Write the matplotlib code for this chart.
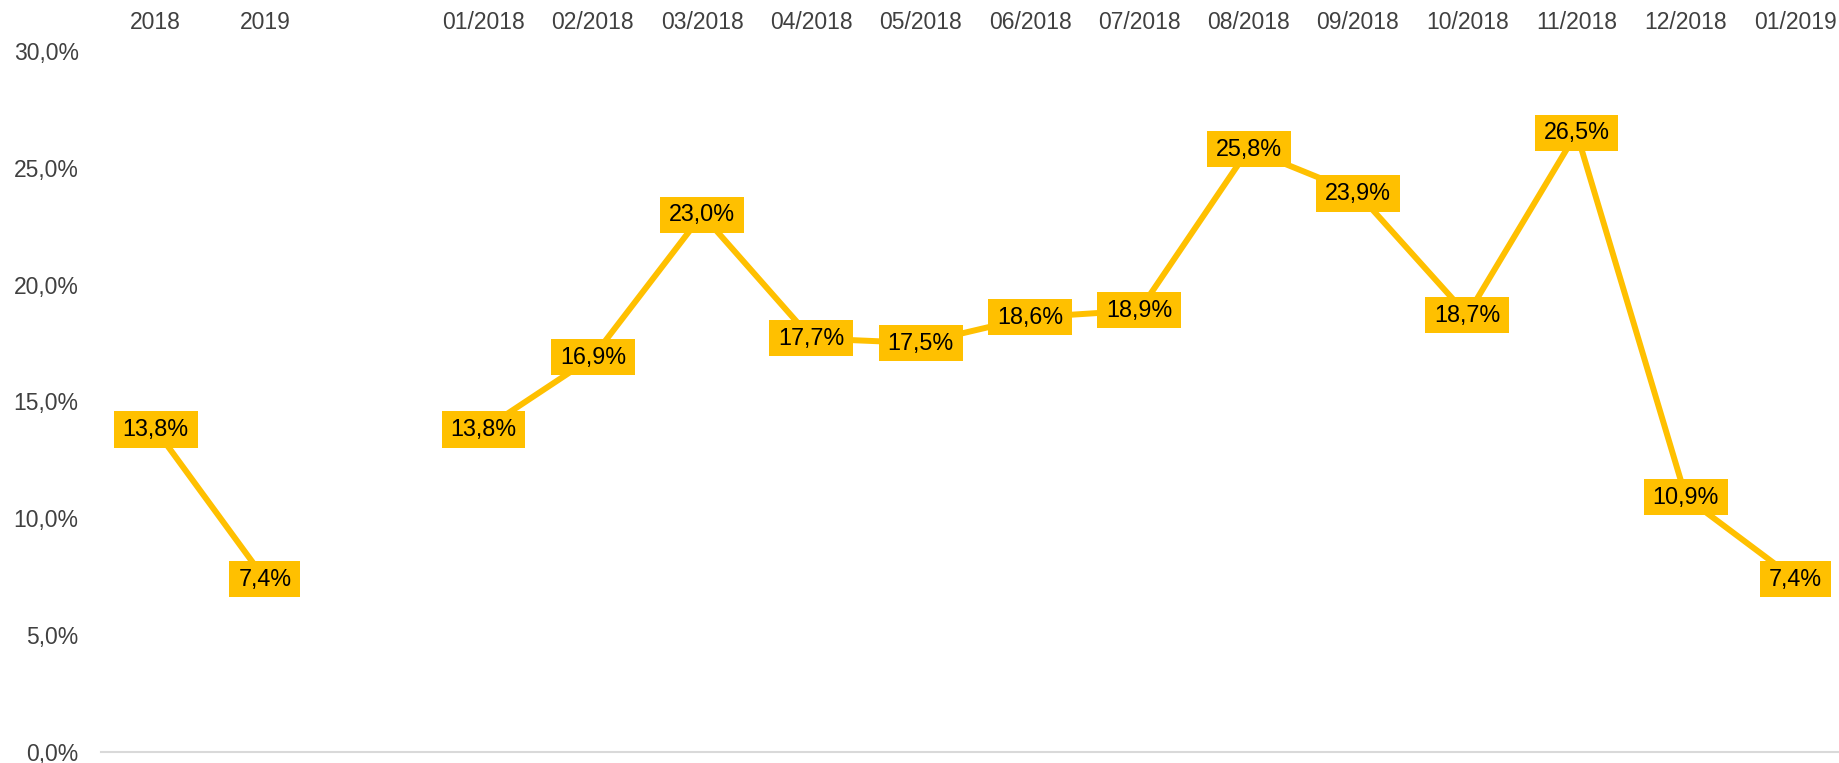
import numpy as np
import matplotlib.pyplot as plt
from matplotlib.path import Path
from matplotlib.ticker import FuncFormatter

# dados do gráfico
categorias = ['2018', '2019', '',
              '01/2018', '02/2018', '03/2018', '04/2018', '05/2018', '06/2018', '07/2018',
              '08/2018', '09/2018', '10/2018', '11/2018', '12/2018', '01/2019']
valores = [13.8, 7.4, np.nan,
           13.8, 16.9, 23.0, 17.7, 17.5, 18.6, 18.9, 25.8, 23.9, 18.7, 26.5, 10.9, 7.4]

amarelo = '#FFC000'
plt.rcParams['font.family'] = ['Liberation Sans', 'DejaVu Sans']


# caixa retangular com folga horizontal maior que a vertical
def caixa(x0, y0, width, height, mutation_size):
    px = 0.38 * mutation_size
    py = 0.28 * mutation_size
    x0, y0 = x0 - px, y0 - py
    x1, y1 = x0 + width + 2 * px, y0 + height + 2 * py
    return Path([(x0, y0), (x1, y0), (x1, y1), (x0, y1), (x0, y0)], closed=True)


fig = plt.figure(figsize=(18.39, 7.63), dpi=100)
ax = fig.add_axes([0.0549, 0.0144, 0.951, 0.9188])

x = np.arange(len(categorias))
y = np.array(valores)
ax.plot(x, y, color=amarelo, linewidth=4.3, solid_joinstyle='miter', zorder=2)

# rótulos de dados
for xi, v in zip(x, y):
    if np.isnan(v):
        continue
    ax.text(xi, v, f'{v:.1f}%'.replace('.', ','), ha='center', va='center',
            fontsize=16.8, color='black', zorder=3,
            bbox=dict(boxstyle=caixa, facecolor=amarelo, edgecolor='none'))

ax.set_xlim(-0.5, len(categorias) - 0.5)
ax.set_ylim(0, 30)
ax.set_yticks(np.arange(0, 31, 5))
ax.yaxis.set_major_formatter(FuncFormatter(lambda v, p: f'{v:.1f}%'.replace('.', ',')))

ax.set_xticks(x)
ax.set_xticklabels(categorias)
ax.xaxis.tick_top()

ax.tick_params(axis='x', length=0, pad=12, labelsize=16.5, labelcolor='#404040')
ax.tick_params(axis='y', length=0, pad=16, labelsize=16.5, labelcolor='#404040')

for s in ['top', 'left', 'right']:
    ax.spines[s].set_visible(False)
ax.spines['bottom'].set_color('#D9D9D9')
ax.spines['bottom'].set_linewidth(1.5)

fig.savefig('out.png', dpi=100)
